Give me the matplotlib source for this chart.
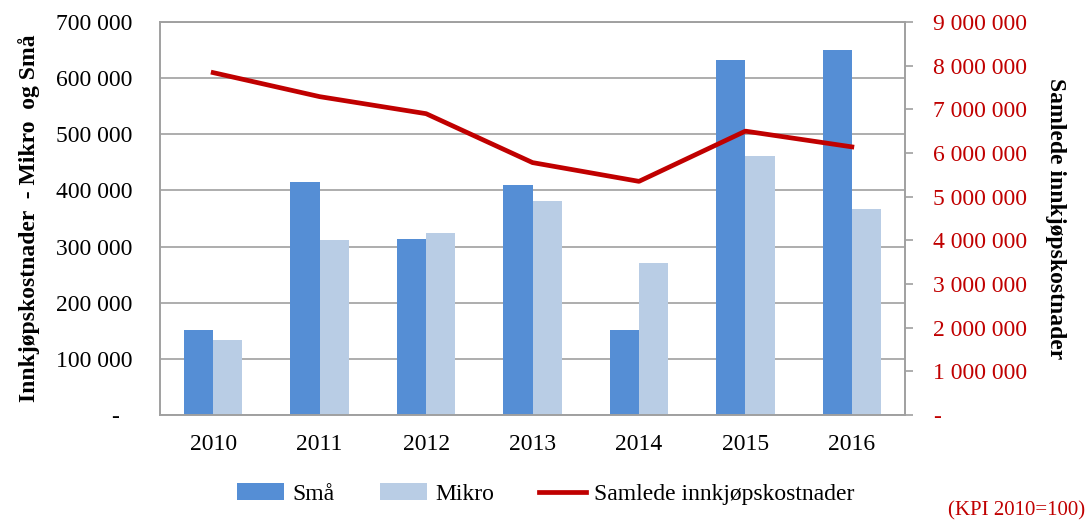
import matplotlib
matplotlib.use('Agg')
import matplotlib.pyplot as plt
import numpy as np
from matplotlib.ticker import FuncFormatter, MultipleLocator

years = ['2010', '2011', '2012', '2013', '2014', '2015', '2016']
smaa = [151000, 415000, 314000, 409000, 151000, 633000, 650000]
mikro = [134000, 311000, 324000, 381000, 271000, 462000, 366000]
samlede = [7840000, 7290000, 6900000, 5780000, 5350000, 6500000, 6140000]

plt.rcParams['font.family'] = ['Liberation Serif', 'DejaVu Serif']
plt.rcParams['font.size'] = 17

red = '#C00000'
grey = '#A0A0A0'


def fmt_left(v, pos):
    if abs(v) < 1:
        return '-\u2002'
    return '{:,.0f}'.format(v).replace(',', ' ')


def fmt_right(v, pos):
    if abs(v) < 1:
        return '-'
    return '{:,.0f}'.format(v).replace(',', ' ')


fig = plt.figure(figsize=(10.92, 5.23), dpi=100)
ax = fig.add_axes([0.1465, 0.2065, 0.6823, 0.7515])
x = np.arange(len(years))
w = 0.275
b1 = ax.bar(x - w / 2, smaa, w, color='#558ED5', label='Små', zorder=2)
b2 = ax.bar(x + w / 2, mikro, w, color='#B9CDE5', label='Mikro', zorder=2)
ax.set_xlim(-0.5, len(years) - 0.5)
ax.set_ylim(0, 700000)
ax.yaxis.set_major_locator(MultipleLocator(100000))
ax.yaxis.set_major_formatter(FuncFormatter(fmt_left))
ax.grid(axis='y', color=grey, linewidth=1.2, zorder=0)
ax.set_xticks(x)
ax.set_xticklabels(years)
ax.tick_params(axis='x', length=0, pad=14)
ax.tick_params(axis='y', length=0, pad=20)
for s in ax.spines.values():
    s.set_color(grey)
    s.set_linewidth(1.2)
ax.set_ylabel('Innkjøpskostnader  - Mikro  og Små', fontweight='bold', fontsize=17, labelpad=11)

ax2 = ax.twinx()
ln, = ax2.plot(x, samlede, color=red, linewidth=3.4, label='Samlede innkjøpskostnader', zorder=3)
ax2.set_ylim(0, 9000000)
ax2.yaxis.set_major_locator(MultipleLocator(1000000))
ax2.yaxis.set_major_formatter(FuncFormatter(fmt_right))
ax2.tick_params(axis='y', colors=grey, labelcolor=red, length=6, width=1.2, pad=14)
for s in ax2.spines.values():
    s.set_color(grey)
    s.set_linewidth(1.2)
ax2.set_ylabel('Samlede innkjøpskostnader', fontweight='bold', fontsize=17, rotation=270, labelpad=28)

fig.legend([b1, b2, ln], ['Små', 'Mikro', 'Samlede innkjøpskostnader'], loc='center',
           bbox_to_anchor=(0.5, 0.055), ncol=3, frameon=False, handlelength=2.0,
           handletextpad=0.35, columnspacing=1.9, fontsize=17)
fig.text(0.994, 0.004, '(KPI 2010=100)', color=red, fontsize=15, ha='right', va='bottom')

fig.savefig('out.png', dpi=100)
